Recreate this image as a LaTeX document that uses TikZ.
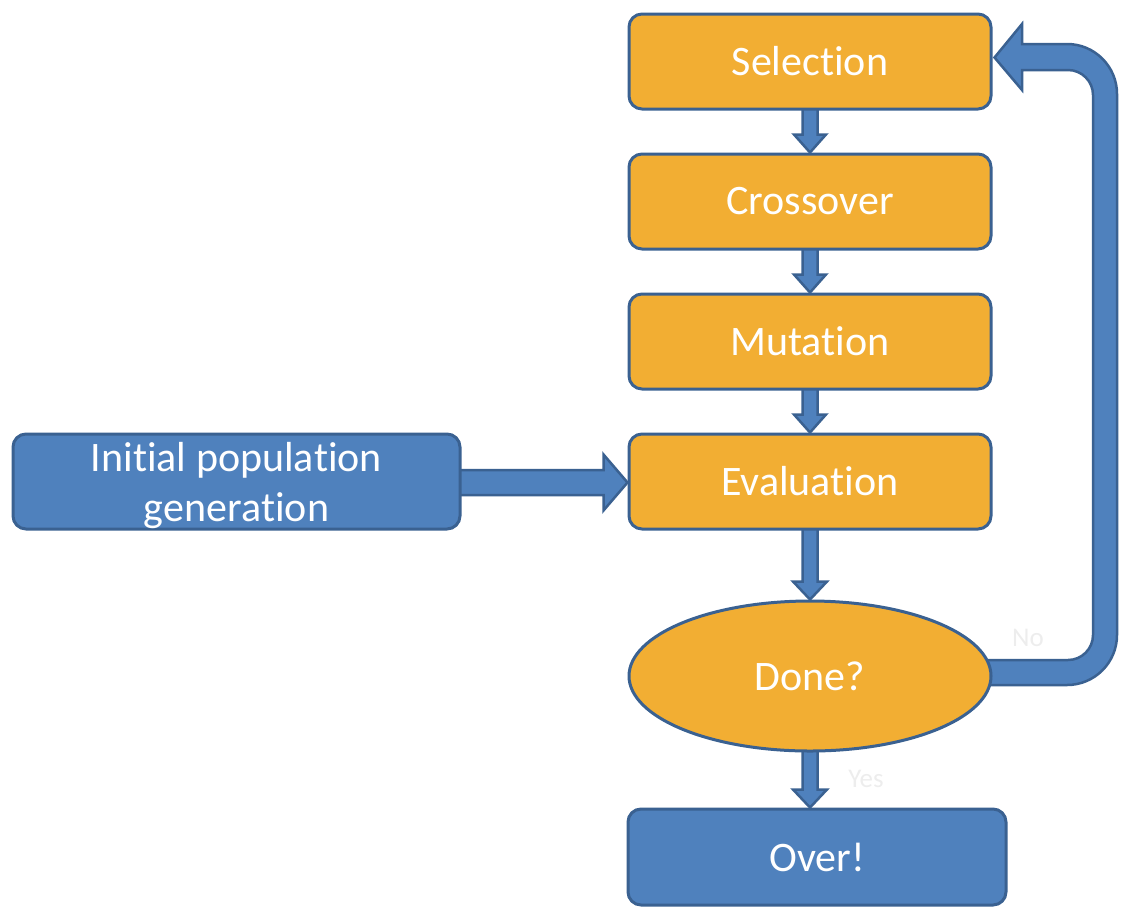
\documentclass[tikz,border=0pt]{standalone}
\usepackage{fontspec}
\setmainfont[Renderer=OpenType,Ligatures=NoCommon]{Carlito}
\usetikzlibrary{calc,shapes.geometric}
\pgfdeclarelayer{bg}
\pgfsetlayers{bg,main}
\definecolor{org}{HTML}{F2AE33}
\definecolor{blu}{HTML}{4F81BD}
\definecolor{bdr}{HTML}{3A6191}
\newcommand\nolig{\kern0pt}
\tikzset{
  box/.style={draw=bdr, line width=3pt, rounded corners=13pt, minimum width=362pt,
    minimum height=95pt, inner sep=0pt, text=white, align=center,
    font=\fontsize{42}{50}\selectfont},
  obox/.style={box, fill=org},
  bbox/.style={box, fill=blu},
  arr/.style={fill=blu, draw=bdr, line width=2.5pt, line join=miter},
  faint/.style={text=black!7, font=\fontsize{27}{30}\selectfont}
}
\newcommand\varrow[5]{% from, to, shaft half, head half, head length
  \filldraw[arr] ($(#1)+(-#3,-6)$) -- ($(#2)+(-#3,-#5)$) -- ($(#2)+(-#4,-#5)$) -- (#2)
    -- ($(#2)+(#4,-#5)$) -- ($(#2)+(#3,-#5)$) -- ($(#1)+(#3,-6)$) -- cycle;}
\begin{document}
\begin{tikzpicture}[x=1pt,y=-1pt]
\useasboundingbox (0,0) rectangle (1121,906);
\node[obox] (sel) at (810,61.5) {Selection};
\node[obox] (cro) at (810,201.5) {Crossover};
\node[obox] (mut) at (810,341.5) {Muta\nolig t\nolig ion};
\node[obox] (eva) at (810,481.5) {Evalua\nolig t\nolig ion};
\node[bbox, minimum width=447pt] (ini) at (236.5,481.5) {\raisebox{-10pt}[0pt][0pt]{\parbox{440pt}{\centering Init\nolig ial popula\nolig t\nolig ion\\genera\nolig t\nolig ion}}};
\node[obox, ellipse, rounded corners=0pt, minimum width=362pt, minimum height=150pt] (done) at (810,676) {Done?};
\node[bbox, minimum width=378pt, minimum height=96pt] (over) at (817,857) {Over!};
\node[faint] (no) at (1028,638) {No};
\node[faint] (yes) at (866,779) {Yes};
\coordinate (overtop) at (over.north -| done.south);
\begin{pgfonlayer}{bg}
\varrow{sel.south}{cro.north}{7.5}{16}{18}
\varrow{cro.south}{mut.north}{7.5}{16}{18}
\varrow{mut.south}{eva.north}{7.5}{16}{18}
\varrow{eva.south}{done.north}{7.5}{17}{18}
\varrow{done.south}{overtop}{7.5}{17}{18}
\filldraw[arr] ($(ini.east)+(-6,-11.5)$) -- ($(eva.west)+(-24,-11.5)$) -- ($(eva.west)+(-24,-27)$)
  -- ($(eva.west)+(0,1)$) -- ($(eva.west)+(-24,29)$) -- ($(eva.west)+(-24,13.5)$)
  -- ($(ini.east)+(-6,13.5)$) -- cycle;
\coordinate (tip) at ($(sel.east)+(2,-4)$);
\filldraw[arr] ($(done.east)+(-17,-16)$) -- (1068,660) .. controls (1081.8,660) and (1093,648.8) .. (1093,635)
  -- (1093,95) .. controls (1093,81.2) and (1081.8,70) .. (1068,70) -- (1022,70) -- (1022,90) -- (tip)
  -- (1022,24) -- (1022,44) -- (1067,44) .. controls (1094.6,44) and (1117,66.4) .. (1117,94)
  -- (1117,635) .. controls (1117,662.6) and (1094.6,685) .. (1067,685) -- ($(done.east)+(-17,9)$) -- cycle;
\end{pgfonlayer}
\end{tikzpicture}
\end{document}
